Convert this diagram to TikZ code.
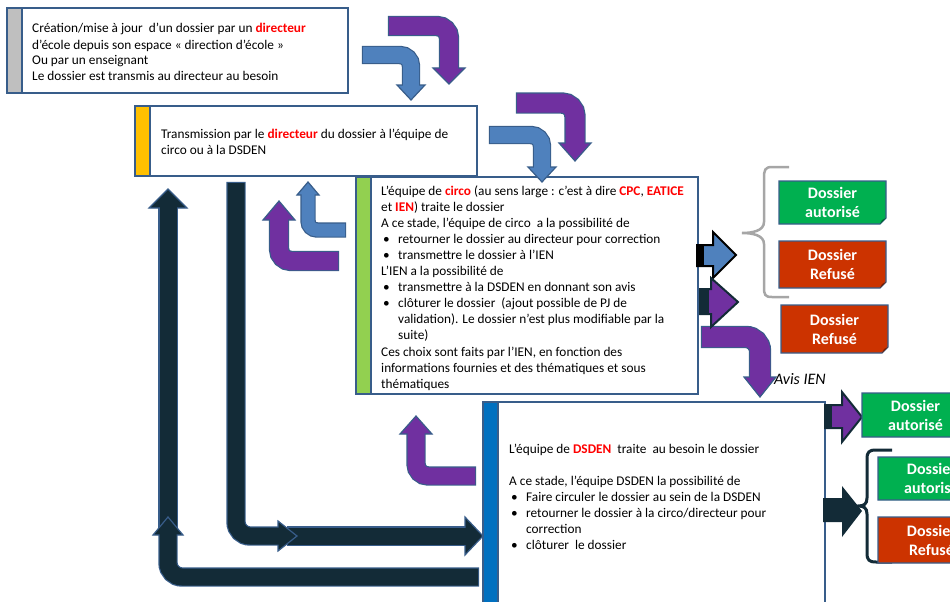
\documentclass[tikz,border=0pt]{standalone}
\usepackage{fontspec}
\setmainfont{Carlito}
\usepackage{xcolor}
\usepackage{tikz}
\definecolor{frame}{HTML}{385D8A}
\definecolor{stripgray}{HTML}{BFBFBF}
\definecolor{stripyellow}{HTML}{FFC000}
\definecolor{stripgreen}{HTML}{92D050}
\definecolor{stripblue}{HTML}{0070C0}
\definecolor{hot}{HTML}{FF0000}
\definecolor{arrblue}{HTML}{4F81BD}
\definecolor{arrpurple}{HTML}{7030A0}
\definecolor{arrdark}{HTML}{132B37}
\definecolor{okgreen}{HTML}{00B050}
\definecolor{nored}{HTML}{CC3300}
\definecolor{bracegray}{HTML}{A6A6A6}

\newcommand{\rd}[1]{\textcolor{hot}{\textbf{#1}}}
\newcommand{\bul}{\makebox[17pt][l]{\hspace{2pt}\textbullet}}
\newcommand{\ind}{\hspace*{17pt}}
% fat arrow: fill, border, width, shaft path, head
\newcommand{\fatarrow}[5]{%
  \draw[line width=#3pt+2.4pt, draw=#2, shorten <=-1.2pt] #4;
  \filldraw[fill=#1, draw=#2, line width=1.2pt, line join=miter] #5;
  \draw[line width=#3pt, draw=#1] #4;}
% result box: name, colour, x1, y1, x2, y2, text
\newcommand{\outbox}[7]{%
  \filldraw[fill=#2, draw=frame, line width=1.2pt] (#3,#4) -- (#5,#4) -- (#5,#6-6) -- (#5-6,#6) -- (#3,#6) -- cycle;
  \fill[#2!60!black] (#5,#6-6) -- (#5-6,#6) -- (#5-4,#6-4) -- cycle;
  \node[outtext] (#1) at ({(#3+#5)/2},{(#4+#6)/2}) {#7};}

\begin{document}
\begin{tikzpicture}[x=1pt, y=-1pt,
  boxline/.style={draw=frame, line width=1.6pt},
  bodytext/.style={anchor=base west, inner sep=0pt, align=left, font=\fontsize{13.3}{16}\selectfont},
  outtext/.style={inner sep=0pt, align=center, text=white, font=\fontsize{16}{19}\selectfont\bfseries}]
  \clip (0,0) rectangle (950,602);

  % Creation
  \draw[boxline, fill=white] (7,8) rectangle (348,93);
  \draw[boxline, fill=stripgray] (7,8) rectangle (22,93);
  \node[bodytext] (creation) at (32,81) {Création/mise à jour\ \ d’un dossier par un \rd{directeur}\\
    d’école depuis son espace « direction d’école »\\
    Ou par un enseignant\\
    Le dossier est transmis au directeur au besoin};

  % Transmission
  \draw[boxline, fill=white] (135,106) rectangle (477,176);
  \draw[boxline, fill=stripyellow] (135,106) rectangle (150,176);
  \node[bodytext] (transmission) at (161,154) {Transmission par le \rd{directeur} du dossier à l’équipe de\\
    circo ou à la DSDEN};

  % Equipe de circo
  \draw[boxline, fill=white] (356,177) rectangle (698,394);
  \draw[boxline, fill=stripgreen] (356,177) rectangle (371,394);
  \node[bodytext] (circo) at (381,388.5) {L’équipe de \rd{circo} (au sens large : c’est à dire \rd{CPC}, \rd{EATICE}\\
    et \rd{IEN}) traite le dossier\\
    A ce stade, l’équipe de circo\ \ a la possibilité de\\
    \bul retourner le dossier au directeur pour correction\\
    \bul transmettre le dossier à l’IEN\\
    L’IEN a la possibilité de\\
    \bul transmettre à la DSDEN en donnant son avis\\
    \bul clôturer le dossier\ \ (ajout possible de PJ de\\
    \ind validation). Le dossier n’est plus modifiable par la\\
    \ind suite)\\[1.5pt]
    Ces choix sont faits par l’IEN, en fonction des\\
    informations fournies et des thématiques et sous\\
    thématiques};

  % Equipe DSDEN
  \draw[boxline, fill=white] (483,402) rectangle (825,640);
  \draw[boxline, fill=stripblue] (483,402) rectangle (498,640);
  \node[bodytext] (dsden) at (509,549) {L’équipe de \rd{DSDEN}\ \ traite\ \ au besoin le dossier\\[16pt]
    A ce stade, l’équipe DSDEN la possibilité de\\
    \bul Faire circuler le dossier au sein de la DSDEN\\
    \bul retourner le dossier à la circo/directeur pour\\
    \ind correction\\
    \bul clôturer\ \ le dossier};

  % Fleches vers le bas
  \fatarrow{arrblue}{frame}{16}{[rounded corners=11] (363,55) -- (411,55) -- (411,87)}{(411,100) -- (397,85) -- (425,85) -- cycle}
  \fatarrow{arrpurple}{frame}{18}{[rounded corners=12] (389,26) -- (449,26) -- (449,70)}{(449,84) -- (433,68) -- (465,68) -- cycle}
  \fatarrow{arrblue}{frame}{16}{[rounded corners=11] (490,135) -- (542,135) -- (542,169)}{(542,182) -- (528,167) -- (556,167) -- cycle}
  \fatarrow{arrpurple}{frame}{19}{[rounded corners=13] (517,103) -- (575,103) -- (575,145)}{(575,161) -- (559,143) -- (591,143) -- cycle}
  \fatarrow{arrpurple}{frame}{20}{[rounded corners=14] (702,337) -- (760,337) -- (760,379)}{(760,397) -- (744,377) -- (776,377) -- cycle}

  % Retours
  \fatarrow{arrblue}{frame}{13}{[rounded corners=9] (345,230) -- (308,230) -- (308,193)}{(308,182) -- (297,195) -- (319,195) -- cycle}
  \fatarrow{arrpurple}{frame}{18}{[rounded corners=12] (338,261) -- (279,261) -- (279,218)}{(279,201) -- (263,220) -- (295,220) -- cycle}
  \fatarrow{arrpurple}{frame}{17}{[rounded corners=12] (475,476) -- (416,476) -- (416,432)}{(416,416) -- (400,434) -- (432,434) -- cycle}

  % Fleches sombres
  \fatarrow{arrdark}{frame}{17}{(168,528) -- (168,206)}{(168,189) -- (149,208) -- (187,208) -- cycle}
  \fatarrow{arrdark}{frame}{17}{[rounded corners=14] (478,577) -- (168,577) -- (168,533)}{(168,517) -- (153,535) -- (183,535) -- cycle}
  \fatarrow{arrdark}{frame}{17}{(288,536) -- (467,536)}{(483,536) -- (465,517) -- (465,555) -- cycle}
  \fatarrow{arrdark}{frame}{17}{[rounded corners=14] (236,183) -- (236,536) -- (280,536)}{(297,536) -- (278,521) -- (278,551) -- cycle}

  % Sorties a droite
  \filldraw[fill=arrblue, draw=black, line width=2pt, line join=miter] (697,245) -- (713,245) -- (713,232) -- (736,255) -- (713,278) -- (713,266) -- (697,266) -- cycle;
  \fill[black] (697,244) rectangle (704,267);
  \filldraw[fill=arrpurple, draw=arrdark, line width=2pt, line join=miter] (700,289) -- (711,289) -- (711,278) -- (738,302) -- (711,327) -- (711,314) -- (700,314) -- cycle;
  \fill[arrdark] (700,288) rectangle (709,315);
  \filldraw[fill=arrpurple, draw=arrdark, line width=2pt, line join=miter] (825,405) -- (842,405) -- (842,392) -- (862,417) -- (842,442) -- (842,428) -- (825,428) -- cycle;
  \fill[arrdark] (825,404) rectangle (832,429);
  \fill[arrdark] (823,498) -- (842,498) -- (842,486) -- (862,511) -- (842,537) -- (842,522) -- (823,522) -- cycle;
  \node[font=\fontsize{16}{18}\selectfont\itshape, anchor=base west, inner sep=0pt] (avis) at (774,384) {Avis IEN};

  % Accolades
  \draw[line width=2.5pt, bracegray] (789,167) -- (772,167) .. controls (765,167) and (764,170) .. (764,178) -- (764,222) .. controls (764,231) and (752,233) .. (742,233) .. controls (752,233) and (764,235) .. (764,244) -- (764,287) .. controls (764,295) and (765,297) .. (772,297) -- (789,297);
  \draw[line width=3pt, arrdark] (892,450) -- (876,450) .. controls (869,450) and (867,452) .. (867,459) -- (867,498) .. controls (867,504) and (864,506) .. (858,506) .. controls (864,506) and (867,508) .. (867,514) -- (867,553) .. controls (867,560) and (869,562) .. (876,562) -- (892,562);

  % Resultats
  \outbox{okA}{okgreen}{779}{181}{886}{224}{Dossier\\autorisé}
  \outbox{noA}{nored}{779}{241}{886}{288}{Dossier\\Refusé}
  \outbox{noB}{nored}{781}{305}{888}{353}{Dossier\\Refusé}
  \outbox{okB}{okgreen}{862}{393}{969}{437}{Dossier\\autorisé}
  \outbox{okC}{okgreen}{878}{457}{985}{500}{Dossier\\autorisé}
  \outbox{noC}{nored}{878}{517}{985}{563}{Dossier\\Refusé}
\end{tikzpicture}
\end{document}
